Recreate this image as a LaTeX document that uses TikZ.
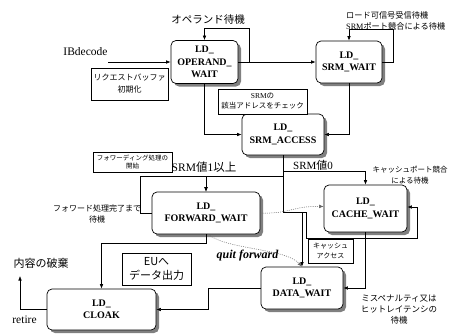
\documentclass[tikz,border=0pt]{standalone}
\usepackage{fontspec}
\setmainfont{Liberation Serif}
\newfontfamily\cjk{Noto Sans CJK JP}
\usetikzlibrary{arrows.meta,shadows}
\newcommand\myfs[2]{\fontsize{#1}{#2}\selectfont}
\begin{document}
\begin{tikzpicture}[x=1pt,y=-1pt,
  stbox/.style={draw, rounded corners=5pt, fill=white, line width=0.7pt,
    drop shadow={shadow xshift=3pt,shadow yshift=-3pt,fill=black!50,opacity=1},
    font=\bfseries\myfs{10}{12.5}, align=center, inner sep=0pt},
  notebox/.style={draw, fill=white, line width=0.6pt, align=center, inner sep=0pt},
  lbl/.style={align=center, inner sep=0pt},
  arr/.style={-{Latex[length=4.5pt,width=3.6pt]}, line width=0.6pt},
  dotarr/.style={-{Latex[length=4.5pt,width=3.6pt]}, line width=0.5pt, dash pattern=on 1pt off 1.2pt, draw=black!60}
]
\useasboundingbox (0,0) rectangle (450,333);

% states
\node[stbox, minimum width=67pt, minimum height=43pt] (op) at (204.5,62) {LD\_\\OPERAND\_\\WAIT};
\node[stbox, minimum width=66pt, minimum height=42pt] (sw) at (349,62) {LD\_\\SRM\_WAIT};
\node[stbox, minimum width=82pt, minimum height=41pt] (sa) at (283,134.5) {LD\_\\SRM\_ACCESS};
\node[stbox, minimum width=83pt, minimum height=47pt] (cw) at (365.5,208.5) {LD\_\\CACHE\_WAIT};
\node[stbox, minimum width=108pt, minimum height=42pt] (fw) at (206,213) {LD\_\\FORWARD\_WAIT};
\node[stbox, minimum width=82pt, minimum height=42pt] (dw) at (302,288) {LD\_\\DATA\_WAIT};
\node[stbox, minimum width=109pt, minimum height=41pt] (cl) at (101.5,309.5) {LD\_\\CLOAK};

% note boxes
\node[notebox, minimum width=77pt, minimum height=32pt, font=\cjk\myfs{8}{12}] (rq) at (129.5,84) {リクエストバッファ\\初期化};
\node[notebox, minimum width=89pt, minimum height=25pt, font=\myfs{7.5}{10}] (chk) at (262.5,101.5) {SRM{\cjk の}\\{\cjk 該当アドレスをチェック}};
\node[notebox, minimum width=79pt, minimum height=20pt, font=\cjk\myfs{6.5}{8.5}] (fws) at (132.5,162) {フォワーディング処理の\\開始};
\node[notebox, minimum width=69pt, minimum height=32pt, font=\cjk\myfs{11}{14}] (eu) at (156.5,269) {EUへ\\データ出力};
\node[notebox, minimum width=45pt, minimum height=24pt, font=\cjk\myfs{7}{10}] (ca) at (330.5,251) {キャッシュ\\アクセス};

% labels
\node[lbl, font=\cjk\myfs{10.5}{12}] (opw) at (208,20) {オペランド待機};
\node[lbl, anchor=west, align=left, font=\myfs{8.2}{11}] (swl) at (346,20.5) {{\cjk ロード可信号受信待機}\\SRM{\cjk ポート競合による待機}};
\node[lbl, font=\myfs{11.5}{13}] (ibd) at (85.5,52) {IBdecode};
\node[lbl, font=\myfs{11.5}{13}] (s1) at (204,167) {SRM{\cjk 値}1{\cjk 以上}};
\node[lbl, font=\myfs{11}{13}] (s0) at (313,165) {SRM{\cjk 値}0};
\node[lbl, font=\cjk\myfs{7.5}{11}] (cpl) at (410,175.5) {キャッシュポート競合\\による待機};
\node[lbl, font=\cjk\myfs{8}{10.5}] (fwl) at (97,214) {フォワード処理完了まで\\待機};
\node[lbl, font=\bfseries\itshape\myfs{12}{14}] (qf) at (247.5,256) {quit forward};
\node[lbl, font=\cjk\myfs{8.5}{11}] (mpl) at (399,310) {ミスペナルティ又は\\ヒットレイテンシの\\待機};
\node[lbl, font=\cjk\myfs{11}{13}] (hk) at (41,263) {内容の破棄};
\node[lbl, font=\myfs{11.5}{13}] (rt) at (24.5,320) {retire};

% coordinates
\coordinate (ibs) at (108,62);
\coordinate (c1) at (249,28);
\coordinate (c2) at (393,29);
\coordinate (j0) at (283,171);
\coordinate (j1) at (283,176);
\coordinate (j3) at (283,212);
\coordinate (j2) at (306,212);
\coordinate (c3) at (417,238);
\coordinate (c4) at (140,176);
\coordinate (c6) at (20,276);

% connectors
\draw[arr] (ibs) -- (op.west);
\draw[arr] (op.east) -| (c1) -| (op.north);
\draw[arr] (op.east) -- (sw.west);
\draw[arr] (sw.east) -| (c2) -| (sw.north);
\draw[arr] (op.south) |- (sa.west);
\draw[arr] (sw.south) |- (sa.east);
\draw[arr] (sa.south) -- (j0) -| (cw.north);
\draw[arr] (sa.south) -- (j1) -| (fw.north);
\draw[arr] (sa.south) -- (j3) -| (dw.north);
\draw[arr] (sa.south) |- (j2) |- (c3) |- ([yshift=1.5pt]cw.east);
\draw[arr] (fw.west) -| (c4) -| (fw.north);
\draw[arr] (cw.south) |- (dw.east);
\draw[arr] (fw.south) -- ++(0,9) -| (cl.north);
\draw[arr] (dw.west) -- ++(-52,0) |- (cl.east);
\draw[arr] (cl.west) -| (c6);
\draw[dotarr] (fw.east) .. controls (290,214) and (292,206) .. ([yshift=2pt]cw.west);
\draw[dotarr] ([xshift=2pt]fw.south) .. controls (228,250) and (285,248) .. (dw.north);
\end{tikzpicture}
\end{document}
